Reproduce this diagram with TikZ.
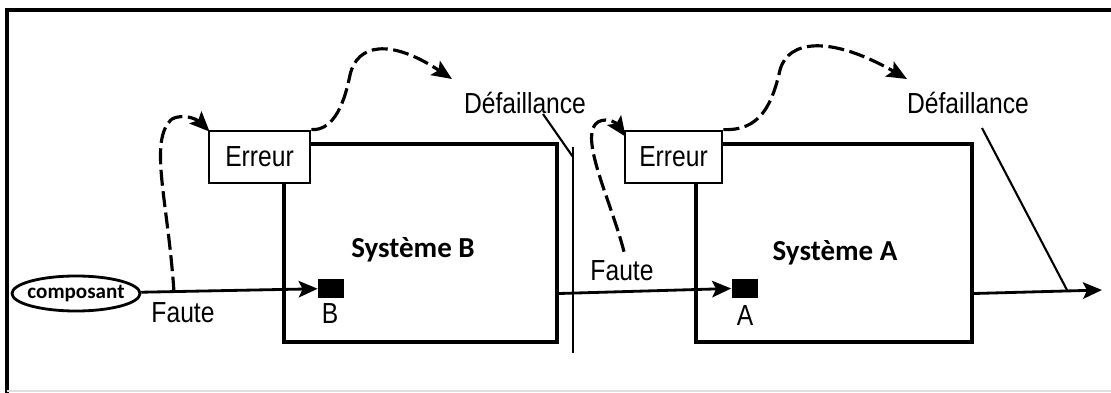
\documentclass[tikz,border=0pt]{standalone}
\usepackage{fontspec}
\usepackage{tikz}
\usetikzlibrary{arrows.meta,positioning,shapes,calc}
\newfontfamily\narrowfont[FakeStretch=0.85]{Liberation Sans}
\newfontfamily\calibfont{Carlito}
\tikzset{
  sysbox/.style={draw=black,line width=2.4pt,minimum width=54.6mm,
                 minimum height=39.6mm,inner sep=0pt},
  errbox/.style={draw=black,fill=white,line width=1.6pt,minimum height=10.4mm,
                 inner sep=0pt,font=\narrowfont\fontsize{16.5}{18}\selectfont},
  plug/.style={fill=black,minimum width=5.2mm,minimum height=3.8mm,inner sep=0pt},
  lbl/.style={inner sep=0pt,anchor=base,
              font=\narrowfont\fontsize{16.5}{18}\selectfont},
  syslbl/.style={inner sep=0pt,anchor=base,
                 font=\calibfont\bfseries\fontsize{16.5}{19}\selectfont},
  partell/.style={ellipse,draw=black,line width=1.6pt,minimum width=25.6mm,
                  minimum height=7mm,inner xsep=-0.8mm,inner ysep=0pt,
                  font=\calibfont\bfseries\fontsize{12}{14}\selectfont},
  flowarr/.style={-{Stealth[length=3.8mm,width=3.3mm,inset=0.8mm]},line width=1.6pt},
  errarr/.style={-{Stealth[length=4mm,width=3.4mm,inset=0.8mm]},line width=1.8pt,
                 dash pattern=on 3.2mm off 1.1mm},
  cutline/.style={line width=1.5pt},
  failline/.style={line width=1.2pt}
}
\begin{document}
\begin{tikzpicture}[x=0.2mm,y=-0.2mm]
  \path[use as bounding box] (0,0) rectangle (1111,393);
  \draw[line width=1.8pt] (7,393) -- (7,10) -- (1111,10);
  \draw[black!12,line width=0.6pt] (7,391) -- (1111,391);

  % systeme B
  \node[partell] (comp) at (76,293.5) {composant};
  \node[sysbox] (sysB) at (420.5,243) {};
  \node[syslbl] (nameB) at (413,257) {Système B};
  \node[errbox,minimum width=20.2mm] (errB) at (259.5,157) {Erreur};
  \node[plug] (sqB) at (331,288.5) {};
  \node[lbl] (labB) at (330,323) {B};
  \node[lbl] (fauteB) at (183,322) {Faute};
  \node[lbl] (defB) at (525,113) {Défaillance};
  \coordinate (faultB) at ($(comp.east)!0.185!(sqB.west)$);
  \coordinate (failB) at (452,79);
  \coordinate (cutT) at (573,147);
  \coordinate (cutJ) at (573,157);
  \coordinate (cutD) at (573,353);

  % systeme A
  \node[sysbox,minimum width=55.2mm] (sysA) at (834,243) {};
  \node[syslbl] (nameA) at (835,260) {Système A};
  \node[errbox,minimum width=19.4mm] (errA) at (673.5,157) {Erreur};
  \node[plug] (sqA) at (744.5,288.5) {};
  \node[lbl] (labA) at (745,325) {A};
  \node[lbl] (fauteA) at (622,280) {Faute};
  \node[lbl] (defA) at (968,113) {Défaillance};
  \coordinate (failA) at (907,79);
  \coordinate (outend) at (1102,290);

  % flux
  \draw[flowarr] (comp) -- (sqB);
  \draw[flowarr] (sysB.east |- comp) -- (sqA.west);
  \draw[flowarr] (sysA.east |- comp) -- (outend);

  % propagation
  \draw[errarr] (faultB) .. controls (168,200) and (148,140) .. (172,119)
    .. controls (186,112) and (200,122) .. ([shift={(2,2)}]errB.north west);
  \draw[errarr] (errB.north east) .. controls (335,131) and (345,100) .. (350,75)
    .. controls (357,44) and (390,38) .. (failB);
  \draw[errarr] ([shift={(2,-8)}]fauteA.north) .. controls (612,205) and (585,150)
    .. (593,128) .. controls (598,116) and (614,120) .. ([shift={(2,7)}]errA.north west);
  \draw[errarr] (errA.north east) .. controls (760,131) and (772,105) .. (780,70)
    .. controls (788,40) and (830,35) .. (failA);

  % defaillances
  \draw[cutline] (cutT) -- (cutD);
  \draw[failline] ($(defB.base)+(18,1)$) -- (cutJ);
  \draw[failline] ($(defA.base)+(14,15)$)
    -- ($(sysA.east |- comp)!0.73!(outend)$);
\end{tikzpicture}
\end{document}
